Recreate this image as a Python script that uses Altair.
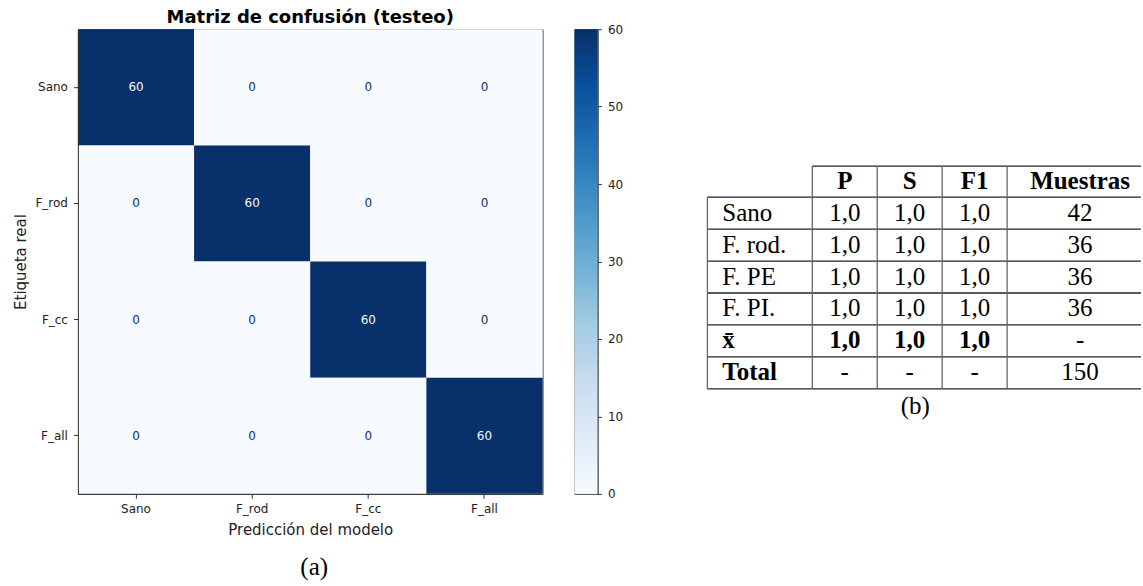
import altair as alt
import pandas as pd

# ---- confusion matrix (test split) ----
CLASSES = ["Sano", "F_rod", "F_cc", "F_all"]
CONFUSION = [
    [60, 0, 0, 0],
    [0, 60, 0, 0],
    [0, 0, 60, 0],
    [0, 0, 0, 60],
]
COLORBAR_TICKS = [0, 10, 20, 30, 40, 50, 60]
HEAT_TITLE = "Matriz de confusión (testeo)"

# ---- per-class metrics table ----
HEADERS = ["P", "S", "F1", "Muestras"]
ROW_NAMES = ["Sano", "F. rod.", "F. PE", "F. PI."]
PRECISION = [1.0, 1.0, 1.0, 1.0]
SENSITIVITY = [1.0, 1.0, 1.0, 1.0]
F1_SCORE = [1.0, 1.0, 1.0, 1.0]
SAMPLES = [42, 36, 36, 36]
MEAN_METRICS = [1.0, 1.0, 1.0]
TOTAL_SAMPLES = 150

# matplotlib "Blues" colormap stops
BLUES = ["#f7fbff", "#deebf7", "#c6dbef", "#9ecae1", "#6baed6",
         "#4292c6", "#2171b5", "#08519c", "#08306b"]
VMAX = 60
COLOR_STOPS = [VMAX * k / (len(BLUES) - 1) for k in range(len(BLUES))]

SANS = "DejaVu Sans"
SERIF = "Liberation Serif"
INK = "#222222"
SPINE = "#333333"

PLOT = 465          # side of the square heatmap
CBAR_W = 23
GAP = 32
TABLE_W = 512


def fmt(v):
    return f"{v:.1f}".replace(".", ",")


# ------------------------------------------------------------------ heatmap
cm_df = pd.DataFrame(
    [{"real": r, "pred": p, "count": CONFUSION[i][j]}
     for i, r in enumerate(CLASSES) for j, p in enumerate(CLASSES)]
)

axis_common = dict(
    labelFont=SANS, labelFontSize=12, labelColor=INK,
    tickSize=4.5, tickColor=SPINE, domainColor=SPINE, grid=False,
    titleFont=SANS, titleFontSize=15, titleFontWeight="normal", titleColor=INK,
)

heat_base = alt.Chart(cm_df).encode(
    x=alt.X("pred:N", sort=CLASSES,
            scale=alt.Scale(paddingInner=0, paddingOuter=0),
            axis=alt.Axis(title="Predicción del modelo", labelAngle=0, labelPadding=5,
                          titlePadding=8, **axis_common)),
    y=alt.Y("real:N", sort=CLASSES,
            scale=alt.Scale(paddingInner=0, paddingOuter=0),
            axis=alt.Axis(title="Etiqueta real", labelPadding=6, titlePadding=6,
                          **axis_common)),
)

cells = heat_base.mark_rect().encode(
    color=alt.Color("count:Q",
                    scale=alt.Scale(domain=COLOR_STOPS, range=BLUES, interpolate="rgb"),
                    legend=None)
)

cell_text = heat_base.mark_text(font=SANS, fontSize=12).encode(
    text="count:Q",
    color=alt.condition(f"datum.count > {VMAX / 2}", alt.value(BLUES[0]), alt.value(BLUES[-1])),
)

# panel title above the matrix and the "(a)" caption below it
heat_title = alt.Chart(pd.DataFrame({"t": [HEAT_TITLE]})).mark_text(
    font=SANS, fontSize=18, fontWeight="bold", color="black", baseline="alphabetic"
).encode(text="t:N", x=alt.value(PLOT / 2), y=alt.value(-6))

caption_a = alt.Chart(pd.DataFrame({"caption": ["(a)"]})).mark_text(
    font=SERIF, fontSize=25, color="black", baseline="middle"
).encode(text="caption:N", x=alt.value(PLOT / 2 + 4), y=alt.value(PLOT + 73))

heat = alt.layer(cells, cell_text, heat_title, caption_a).properties(
    width=PLOT, height=PLOT,
)

# ------------------------------------------------------------------ colorbar
gradient = {
    "gradient": "linear", "x1": 0, "y1": 1, "x2": 0, "y2": 0,
    "stops": [{"offset": k / (len(BLUES) - 1), "color": c} for k, c in enumerate(BLUES)],
}

cbar = alt.Chart(pd.DataFrame({"lo": [0], "hi": [VMAX]})).mark_rect(fill=gradient).encode(
    y=alt.Y("lo:Q", scale=alt.Scale(domain=[0, VMAX], nice=False, zero=False),
            axis=alt.Axis(orient="right", values=COLORBAR_TICKS, title=None,
                          labelFont=SANS, labelFontSize=12, labelColor=INK,
                          labelPadding=6, tickSize=4, tickColor=SPINE,
                          domainColor=SPINE, grid=False)),
    y2="hi:Q",
    x=alt.value(0),
    x2=alt.value("width"),
).properties(width=CBAR_W, height=PLOT)

# ------------------------------------------------------------------ table
# column edges / row edges of the table grid (pixels inside the panel)
COL_EDGES = [78, 183, 248, 313, 378, 524]
ROW_EDGES = [137, 168, 200, 232, 264, 296, 328, 360]
LEFT_INSET = 15

col_center = [(COL_EDGES[k] + COL_EDGES[k + 1]) / 2 for k in range(len(COL_EDGES) - 1)]
row_center = [(ROW_EDGES[r] + ROW_EDGES[r + 1]) / 2 - 0.5 for r in range(len(ROW_EDGES) - 1)]

text_rows = []


def put(col, row, label, bold):
    x = COL_EDGES[0] + LEFT_INSET if col == 0 else col_center[col]
    text_rows.append({"x": x, "y": row_center[row], "label": label,
                      "bold": bold, "left": col == 0})


for k, h in enumerate(HEADERS):
    put(k + 1, 0, h, True)
for i, name in enumerate(ROW_NAMES):
    put(0, i + 1, name, False)
    put(1, i + 1, fmt(PRECISION[i]), False)
    put(2, i + 1, fmt(SENSITIVITY[i]), False)
    put(3, i + 1, fmt(F1_SCORE[i]), False)
    put(4, i + 1, str(SAMPLES[i]), False)
mean_row = len(ROW_NAMES) + 1
put(0, mean_row, "x\u0304", True)
for k, v in enumerate(MEAN_METRICS):
    put(k + 1, mean_row, fmt(v), True)
put(4, mean_row, "-", False)
total_row = mean_row + 1
put(0, total_row, "Total", True)
for k in range(3):
    put(k + 1, total_row, "-", False)
put(4, total_row, str(TOTAL_SAMPLES), False)

text_df = pd.DataFrame(text_rows)

h_lines = [{"x": COL_EDGES[1] if r == 0 else COL_EDGES[0], "x2": TABLE_W,
            "y": ROW_EDGES[r]} for r in range(len(ROW_EDGES))]
v_lines = [{"x": COL_EDGES[c], "y": ROW_EDGES[1] if c == 0 else ROW_EDGES[0],
            "y2": ROW_EDGES[-1]} for c in range(len(COL_EDGES)) if COL_EDGES[c] <= TABLE_W]

tx = alt.X("x:Q", scale=alt.Scale(domain=[0, TABLE_W], nice=False, zero=False), axis=None)
ty = alt.Y("y:Q", scale=alt.Scale(domain=[0, PLOT], nice=False, zero=False, reverse=True), axis=None)

h_rule = alt.Chart(pd.DataFrame(h_lines)).mark_rule(color="#222222", strokeWidth=1.3).encode(
    x=tx, x2="x2:Q", y=ty)
v_rule = alt.Chart(pd.DataFrame(v_lines)).mark_rule(color="#666666", strokeWidth=1.3).encode(
    x=tx, y=ty, y2="y2:Q")


def text_layer(bold, left):
    sub = text_df[(text_df["bold"] == bold) & (text_df["left"] == left)]
    return alt.Chart(sub).mark_text(
        font=SERIF, fontSize=25, color="black", baseline="middle",
        fontWeight="bold" if bold else "normal", align="left" if left else "center",
    ).encode(x=tx, y=ty, text="label:N")


caption_b = alt.Chart(pd.DataFrame({"caption": ["(b)"], "x": [286], "y": [377]})).mark_text(
    font=SERIF, fontSize=25, color="black", baseline="middle"
).encode(x=tx, y=ty, text="caption:N")

table = alt.layer(
    h_rule, v_rule,
    text_layer(False, False), text_layer(True, False),
    text_layer(False, True), text_layer(True, True),
    caption_b,
).properties(width=TABLE_W, height=PLOT, view=alt.ViewBackground(stroke="transparent"))

chart = alt.hconcat(heat, cbar, table, spacing=GAP, bounds="flush").properties(
    padding={"left": 13, "top": 8, "right": 0, "bottom": 0},
    background="white",
).configure_view(stroke=SPINE, strokeWidth=1)

chart.save("out.html", embed_options={"renderer": "svg", "actions": False})
